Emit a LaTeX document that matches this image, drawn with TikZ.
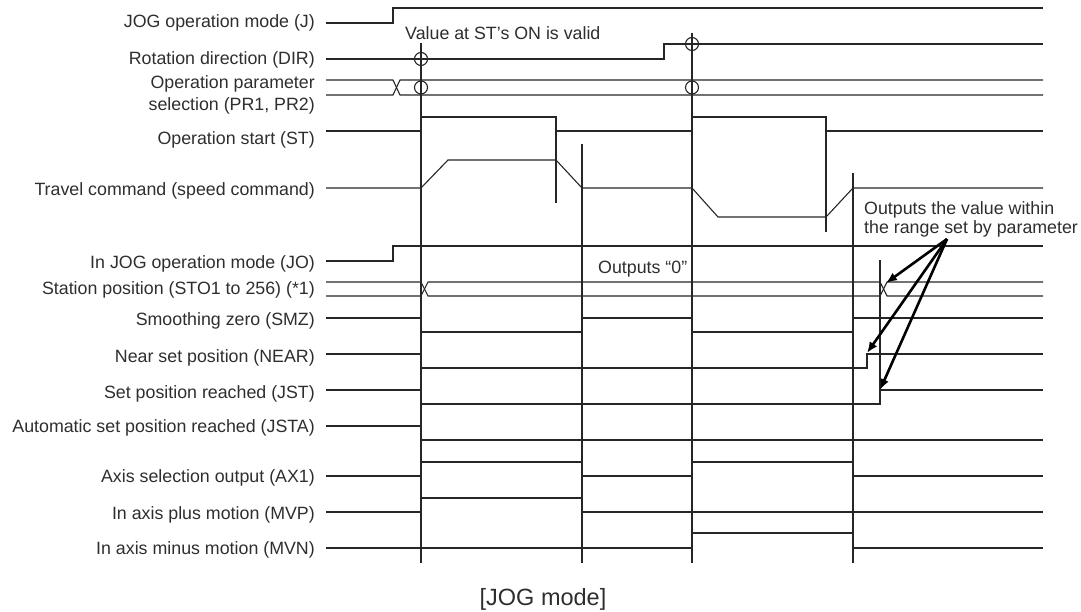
\documentclass[tikz,border=0pt]{standalone}
\usepackage{fontspec}
\setmainfont{Liberation Sans}
\usetikzlibrary{arrows.meta}
\begin{document}
\begin{tikzpicture}[x=1pt,y=-1pt,
  lbl/.style={anchor=base east,inner sep=0pt,text=black!82,font=\fontsize{17.8}{19}\selectfont},
  note/.style={anchor=base west,inner sep=0pt,text=black!82,font=\fontsize{17.8}{19}\selectfont},
  wave/.style={draw=black!85,line width=1.1pt,line join=miter},
  tline/.style={draw=black!85,line width=1.1pt},
  arr/.style={draw=black,line width=2.6pt,-{Latex[length=11pt,width=9pt]}}]
\useasboundingbox (0,0) rectangle (1081,612);
% labels
\node[lbl] (lJ)   at (315,27.4)  {JOG operation mode (J)};
\node[lbl] (lDIR) at (315,64.4)  {Rotation direction (DIR)};
\node[lbl] (lPRa) at (315,88.4)  {Operation parameter};
\node[lbl] (lPRb) at (315,110.4) {selection (PR1, PR2)};
\node[lbl] (lST)  at (315,144.4) {Operation start (ST)};
\node[lbl] (lTC)  at (315,195.4) {Travel command (speed command)};
\node[lbl] (lJO)  at (315,268.4) {In JOG operation mode (JO)};
\node[lbl] (lSTO) at (315,294.4) {Station position (STO1 to 256) (*1)};
\node[lbl] (lSMZ) at (315,325.4) {Smoothing zero (SMZ)};
\node[lbl] (lNR)  at (315,362.4) {Near set position (NEAR)};
\node[lbl] (lJST) at (315,398.4) {Set position reached (JST)};
\node[lbl] (lJSA) at (315,432.4) {Automatic set position reached (JSTA)};
\node[lbl] (lAX)  at (315,482.4) {Axis selection output (AX1)};
\node[lbl] (lMVP) at (315,519.4) {In axis plus motion (MVP)};
\node[lbl] (lMVN) at (315,554.4) {In axis minus motion (MVN)};
% notes
\node[note] (nVal) at (405,39.4) {Value at ST’s ON is valid};
\node[note] (nOut) at (598,273.4) {Outputs “0”};
\node[note] (nRa)  at (864,214.4) {Outputs the value within};
\node[note] (nRb)  at (864,233.4) {the range set by parameter};
\node[anchor=base,inner sep=0pt,text=black!82,font=\fontsize{23.5}{25}\selectfont] (cap) at (543,605) {[JOG mode]};
% waveforms
\draw[wave] (326,23)--(393,23)--(393,8)--(1043,8);
\draw[wave] (326,59)--(664,59)--(664,44)--(1043,44);
\draw[wave] (326,80)--(393,80)--(400,95)--(1043,95);
\draw[wave] (326,95)--(393,95)--(400,80)--(1043,80);
\draw[wave] (326,131)--(421,131)--(421,117)--(556,117)--(556,131)--(692,131)--(692,117)--(826,117)--(826,131)--(1043,131);
\draw[wave] (326,188)--(421,188)--(448,160)--(556,160)--(582,188)--(692,188)--(718,217)--(826,217)--(853,188)--(1043,188);
\draw[wave] (326,261)--(393,261)--(393,246)--(1043,246);
\draw[wave] (326,282)--(421,282)--(428,296)--(880,296)--(887,282)--(1043,282);
\draw[wave] (326,296)--(421,296)--(428,282)--(880,282)--(887,296)--(1043,296);
\draw[wave] (326,318)--(421,318)--(421,332)--(582,332)--(582,318)--(692,318)--(692,332)--(853,332)--(853,318)--(1043,318);
\draw[wave] (326,354)--(421,354)--(421,368)--(867,368)--(867,354)--(1043,354);
\draw[wave] (326,390)--(421,390)--(421,404)--(880,404)--(880,390)--(1043,390);
\draw[wave] (326,426)--(421,426)--(421,440)--(1043,440);
\draw[wave] (326,476)--(421,476)--(421,462)--(582,462)--(582,476)--(692,476)--(692,462)--(853,462)--(853,476)--(1043,476);
\draw[wave] (326,512)--(421,512)--(421,498)--(582,498)--(582,512)--(1043,512);
\draw[wave] (326,548)--(692,548)--(692,533)--(853,533)--(853,548)--(1043,548);
% timing verticals
\draw[tline] (421,43)--(421,563);
\draw[tline] (692,33)--(692,563);
\draw[tline] (556,117)--(556,203);
\draw[tline] (582,144)--(582,563);
\draw[tline] (826,117)--(826,232);
\draw[tline] (853,173)--(853,563);
\draw[tline] (880,260)--(880,404);
% circles
\draw[tline] (421,59) circle (6.5);
\draw[tline] (421,87.5) circle (6.5);
\draw[tline] (692,44) circle (6.5);
\draw[tline] (692,87.5) circle (6.5);
% arrows
\coordinate (src) at (947,239);
\coordinate (tSTO) at (886,283);
\coordinate (tNR) at (867,353);
\coordinate (tJST) at (880,390);
\draw[arr] (src)--(tSTO);
\draw[arr] (src)--(tNR);
\draw[arr] (src)--(tJST);
\end{tikzpicture}
\end{document}
